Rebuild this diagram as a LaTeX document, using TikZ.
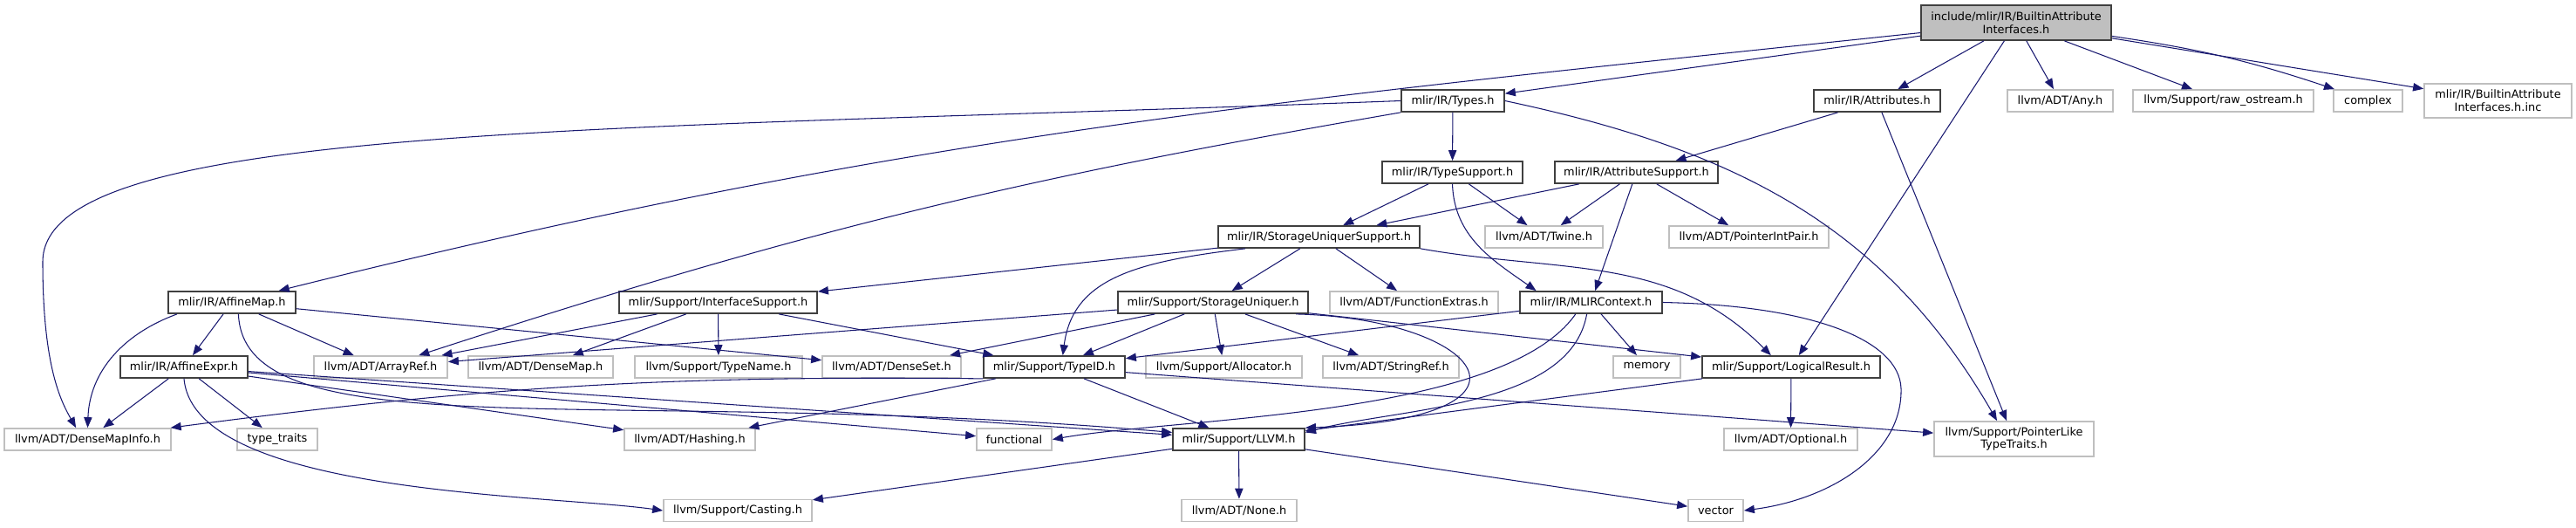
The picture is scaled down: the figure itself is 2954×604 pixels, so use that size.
\documentclass[tikz,border=0pt]{standalone}
\usepackage{fontspec}
\setmainfont{DejaVu Sans}
\usetikzlibrary{arrows.meta}
\definecolor{Midnight}{HTML}{191970}
\definecolor{Frame}{HTML}{404040}
\definecolor{Faint}{HTML}{BFBFBF}
\definecolor{Root}{HTML}{BFBFBF}
\tikzset{
    filenode/.style={rectangle, draw=Frame, fill=white, line width=0.75pt, minimum height=3.75mm, inner sep=0.5pt, align=center, font=\fontsize{5.5}{6.25}\selectfont},
    sysnode/.style={filenode, draw=Faint},
    rootnode/.style={filenode, fill=Root, minimum height=6mm},
    incl/.style={-{Triangle[length=1.8mm, width=1.4mm]}, line width=0.45pt, color=Midnight},
}

\begin{document}
\begin{tikzpicture}[x=0.15mm, y=-0.15mm]
    \useasboundingbox (0,0) rectangle (2954,604);

    % Header di partenza
    \node[rootnode, minimum width=32.7mm] (main) at (2312,26) {include/mlir/IR/BuiltinAttribute\\Interfaces.h};

    % Primo livello
    \node[filenode, minimum width=17.7mm] (types) at (1666,115.5) {mlir/IR/Types.h};
    \node[filenode, minimum width=21.75mm] (attributes) at (2152.5,115.5) {mlir/IR/Attributes.h};
    \node[sysnode, minimum width=18.15mm] (any) at (2362.5,115.5) {llvm/ADT/Any.h};
    \node[sysnode, minimum width=31.05mm] (rawostream) at (2549.5,115.5) {llvm/Support/raw\_ostream.h};
    \node[sysnode, minimum width=11.85mm] (complex) at (2715.5,115.5) {complex};
    \node[sysnode, minimum width=25.35mm, minimum height=5.85mm] (inc) at (2864.5,115.5) {mlir/IR/BuiltinAttribute\\Interfaces.h.inc};

    % Support di tipi e attributi
    \node[filenode, minimum width=24.15mm] (typesupport) at (1665.5,197.5) {mlir/IR/TypeSupport.h};
    \node[filenode, minimum width=28.05mm] (attrsupport) at (1876.5,197.5) {mlir/IR/AttributeSupport.h};
    \node[filenode, minimum width=34.65mm] (susupport) at (1512.5,271.5) {mlir/IR/StorageUniquerSupport.h};
    \node[sysnode, minimum width=20.25mm] (twine) at (1770.5,271.5) {llvm/ADT/Twine.h};
    \node[sysnode, minimum width=27.45mm] (ptrintpair) at (2005.5,271.5) {llvm/ADT/PointerIntPair.h};

    % Livello intermedio
    \node[filenode, minimum width=21.9mm] (affinemap) at (266,346.5) {mlir/IR/AffineMap.h};
    \node[filenode, minimum width=34.05mm] (ifacesupport) at (823.5,346.5) {mlir/Support/InterfaceSupport.h};
    \node[filenode, minimum width=32.7mm] (suniquer) at (1391,346.5) {mlir/Support/StorageUniquer.h};
    \node[sysnode, minimum width=28.95mm] (funcextras) at (1621.5,346.5) {llvm/ADT/FunctionExtras.h};
    \node[filenode, minimum width=24.45mm] (mlircontext) at (1824.5,346.5) {mlir/IR/MLIRContext.h};

    \node[filenode, minimum width=21.9mm] (affineexpr) at (211,420.5) {mlir/IR/AffineExpr.h};
    \node[sysnode, minimum width=22.95mm] (arrayref) at (436.5,420.5) {llvm/ADT/ArrayRef.h};
    \node[sysnode, minimum width=24.9mm] (densemap) at (620,420.5) {llvm/ADT/DenseMap.h};
    \node[sysnode, minimum width=28.8mm] (typename) at (824,420.5) {llvm/Support/TypeName.h};
    \node[sysnode, minimum width=23.85mm] (denseset) at (1022.5,420.5) {llvm/ADT/DenseSet.h};
    \node[filenode, minimum width=24.3mm] (typeid) at (1209,420.5) {mlir/Support/TypeID.h};
    \node[sysnode, minimum width=26.85mm] (allocator) at (1403.5,420.5) {llvm/Support/Allocator.h};
    \node[sysnode, minimum width=23.4mm] (stringref) at (1595,420.5) {llvm/ADT/StringRef.h};
    \node[sysnode, minimum width=11.55mm] (memory) at (1888.5,420.5) {memory};
    \node[filenode, minimum width=30.6mm] (logicalresult) at (2054,420.5) {mlir/Support/LogicalResult.h};

    % Livelli in basso
    \node[sysnode, minimum width=28.65mm] (densemapinfo) at (100.5,503.5) {llvm/ADT/DenseMapInfo.h};
    \node[sysnode, minimum width=13.8mm] (typetraits) at (318,503.5) {type\_traits};
    \node[sysnode, minimum width=22.5mm] (hashing) at (791,503.5) {llvm/ADT/Hashing.h};
    \node[sysnode, minimum width=12.9mm] (functional) at (1163,503.5) {functional};
    \node[filenode, minimum width=22.65mm] (llvmh) at (1420.5,503.5) {mlir/Support/LLVM.h};
    \node[sysnode, minimum width=22.95mm] (optional) at (2053.5,503.5) {llvm/ADT/Optional.h};
    \node[sysnode, minimum width=27.45mm, minimum height=6mm] (pointerlike) at (2309.5,503) {llvm/Support/PointerLike\\TypeTraits.h};

    \node[sysnode, minimum width=25.5mm] (casting) at (846,585) {llvm/Support/Casting.h};
    \node[sysnode, minimum width=19.8mm] (none) at (1421,585) {llvm/ADT/None.h};
    \node[sysnode, minimum width=9.45mm] (vector) at (1967.5,585) {vector};

    % Include del file principale
    \draw[incl] (main) -- (types);
    \draw[incl] (main) -- (attributes);
    \draw[incl] (main.186) .. controls (1457,116) and (1043,153) .. (affinemap.14);
    \draw[incl] (main) -- (logicalresult);
    \draw[incl] (main) -- (any);
    \draw[incl] (main) -- (rawostream);
    \draw[incl] (main.-8) to[bend left=5] (complex);
    \draw[incl] (main) -- (inc);

    % Types.h e Attributes.h
    \draw[incl] (types) -- (typesupport);
    \draw[incl] (types.west) .. controls (700,150) and (49,140) .. (49,300) .. controls (49,420) and (70,460) .. (densemapinfo.135);
    \draw[incl] (types.south west) .. controls (1158,206) and (911,267) .. (arrayref.17);
    \draw[incl] (types.east) to[out=-12, in=120] (pointerlike.133);
    \draw[incl] (attributes) -- (attrsupport);
    \draw[incl] (attributes) -- (pointerlike);

    % TypeSupport.h e AttributeSupport.h
    \draw[incl] (typesupport) -- (susupport);
    \draw[incl] (typesupport) -- (twine);
    \draw[incl] (typesupport.south) to[out=-88, in=145] (mlircontext.168);
    \draw[incl] (attrsupport) -- (susupport);
    \draw[incl] (attrsupport) -- (twine);
    \draw[incl] (attrsupport) -- (ptrintpair);
    \draw[incl] (attrsupport) -- (mlircontext);

    % StorageUniquerSupport.h
    \draw[incl] (susupport) -- (ifacesupport);
    \draw[incl] (susupport.189) .. controls (1300,300) and (1230,320) .. (typeid.54);
    \draw[incl] (susupport) -- (suniquer);
    \draw[incl] (susupport) -- (funcextras);
    \draw[incl] (susupport.south east) to[out=-10, in=135] (logicalresult.150);

    % AffineMap.h e AffineExpr.h
    \draw[incl] (affinemap) -- (affineexpr);
    \draw[incl] (affinemap.192) to[out=200, in=88] (densemapinfo.north);
    \draw[incl] (affinemap) -- (arrayref);
    \draw[incl] (affinemap) -- (denseset);
    \draw[incl] (affinemap.-61) .. controls (280,520) and (700,440) .. (llvmh.174);
    \draw[incl] (affineexpr) -- (densemapinfo);
    \draw[incl] (affineexpr) -- (typetraits);
    \draw[incl] (affineexpr.south) to[out=-85, in=172, looseness=0.6] (casting.west);
    \draw[incl] (affineexpr) -- (hashing);
    \draw[incl] (affineexpr) -- (llvmh);
    \draw[incl] (affineexpr) -- (functional);

    % InterfaceSupport.h e StorageUniquer.h
    \draw[incl] (ifacesupport) -- (arrayref);
    \draw[incl] (ifacesupport) -- (densemap);
    \draw[incl] (ifacesupport) -- (typename);
    \draw[incl] (ifacesupport) -- (typeid);
    \draw[incl] (suniquer) -- (arrayref);
    \draw[incl] (suniquer) -- (denseset);
    \draw[incl] (suniquer) -- (typeid);
    \draw[incl] (suniquer) -- (allocator);
    \draw[incl] (suniquer) -- (stringref);
    \draw[incl] (suniquer.-8) .. controls (1700,365) and (1790,480) .. (llvmh.north east);
    \draw[incl] (suniquer) -- (logicalresult);

    % MLIRContext.h
    \draw[incl] (mlircontext) -- (typeid);
    \draw[incl] (mlircontext.217) to[out=235, in=10, looseness=0.6] (functional.east);
    \draw[incl] (mlircontext.-110) to[out=-100, in=15, looseness=0.8] (llvmh.6);
    \draw[incl] (mlircontext) -- (memory);
    \draw[incl] (mlircontext.east) .. controls (2080,350) and (2178,390) .. (2180,445) .. controls (2182,520) and (2100,572) .. (vector.east);

    % TypeID.h, LogicalResult.h, LLVM.h
    \draw[incl] (typeid.south west) .. controls (760,430) and (555,443) .. (densemapinfo.8);
    \draw[incl] (typeid) -- (hashing);
    \draw[incl] (typeid) -- (llvmh);
    \draw[incl] (typeid) -- (pointerlike);
    \draw[incl] (logicalresult) -- (llvmh);
    \draw[incl] (logicalresult) -- (optional);
    \draw[incl] (llvmh) -- (casting);
    \draw[incl] (llvmh) -- (none);
    \draw[incl] (llvmh) -- (vector);
\end{tikzpicture}
\end{document}
